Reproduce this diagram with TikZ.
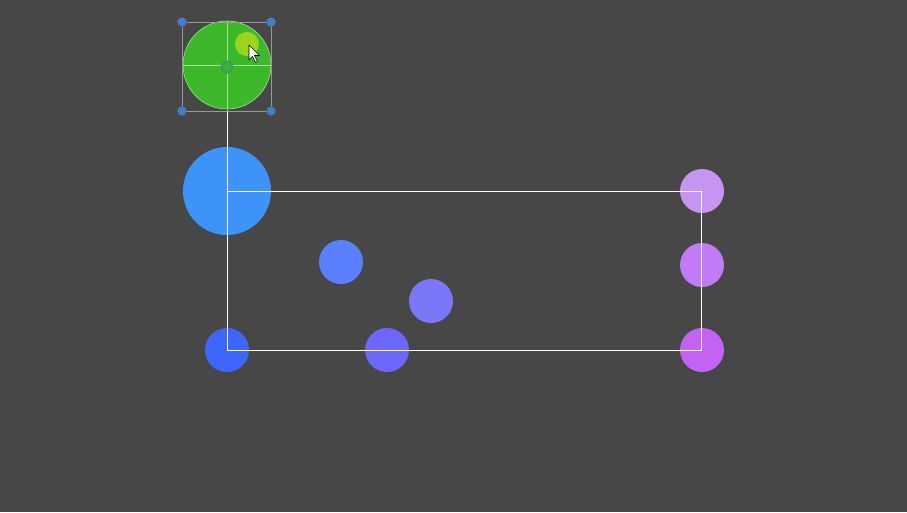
\documentclass[tikz,border=0pt]{standalone}
\definecolor{bg}{HTML}{474747}
\definecolor{gr}{HTML}{3DB82A}
\definecolor{grl}{HTML}{9BE88E}
\definecolor{yel}{HTML}{A8D81A}
\definecolor{bbig}{HTML}{3E93F8}
\definecolor{c1}{HTML}{5B80FF}
\definecolor{c2}{HTML}{7A78F8}
\definecolor{c3}{HTML}{6D66FA}
\definecolor{c4}{HTML}{3F66FA}
\definecolor{p1}{HTML}{C595F1}
\definecolor{p2}{HTML}{C27BF6}
\definecolor{p3}{HTML}{C463F3}
\definecolor{hnd}{HTML}{3A7FD8}
\definecolor{ring}{HTML}{3E9A6A}
\tikzset{
  dot/.style={circle, fill=#1, draw=none, minimum size=44pt, inner sep=0pt},
  bigdot/.style={circle, fill=#1, draw=none, minimum size=88pt, inner sep=0pt},
  handle/.style={circle, fill=hnd, draw=black!60, line width=0.5pt, minimum size=9pt, inner sep=0pt},
  wline/.style={draw=white, line width=1pt},
}
\begin{document}
\begin{tikzpicture}[x=1pt,y=-1pt]
\fill[bg] (0,0) rectangle (907,512);
\useasboundingbox (0,0) rectangle (907,512);
% circles
\node[bigdot=bbig] (blue) at (227,191) {};
\node[dot=c1] (d1) at (341,262) {};
\node[dot=c2] (d2) at (431,301) {};
\node[dot=c3] (d3) at (387,350) {};
\node[dot=c4] (d4) at (227,350) {};
\node[dot=p1] (q1) at (702,191) {};
\node[dot=p2] (q2) at (702,265) {};
\node[dot=p3] (q3) at (702,350) {};
% rectangle path
\coordinate (tl) at (227,191);
\coordinate (tr) at (701,191);
\coordinate (br) at (701,350);
\coordinate (bl) at (227,350);
\coordinate (top) at (227,110);
\draw[wline] (top) -- (bl) -- (br) -- (tr) -- (tl);
% green selected circle
\node[bigdot=gr, draw=grl, line width=0.6pt] (green) at (227,65) {};
\draw[grl, line width=0.8pt] (green.west) -- (green.east);
\draw[grl, line width=0.8pt] (green.north) -- (green.south);
\node[circle, fill=yel, opacity=0.9, minimum size=24pt, inner sep=0pt] (knob) at (247,44) {};
\node[circle, draw=ring, fill=gr!85!ring, line width=2pt, minimum size=11pt, inner sep=0pt] (ctr) at (227,67) {};
% selection box
\coordinate (s1) at (182,22);
\coordinate (s2) at (271,22);
\coordinate (s3) at (271,111);
\coordinate (s4) at (182,111);
\draw[gray!80, line width=0.6pt] (s1) -- (s2) -- (s3) -- (s4) -- cycle;
\node[handle] (h1) at (s1) {};
\node[handle] (h2) at (s2) {};
\node[handle] (h3) at (s3) {};
\node[handle] (h4) at (s4) {};
% cursor
\coordinate (cur) at (249,45);
\draw[fill=white, draw=black, line width=0.6pt, line join=round]
  (cur) -- ++(0,15) -- ++(3.5,-3.5) -- ++(3,6) -- ++(2,-1) -- ++(-3,-6) -- ++(5,0) -- cycle;
\end{tikzpicture}
\end{document}
